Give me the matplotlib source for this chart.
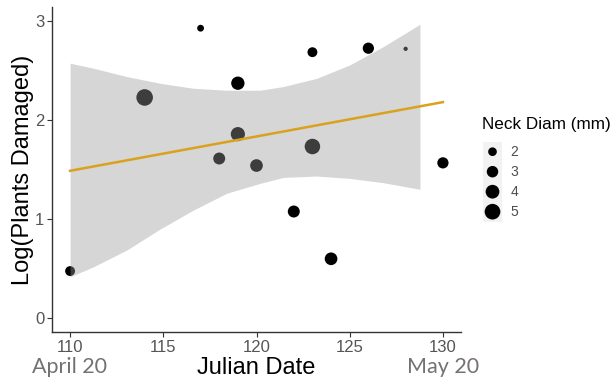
import matplotlib.pyplot as plt
import numpy as np
from matplotlib.patches import Rectangle

# data
julian_day = [110, 114, 117, 118, 119, 119, 120, 122, 123, 123, 124, 126, 128, 130]
log_damaged = [0.475, 2.227, 2.926, 1.611, 2.371, 1.857, 1.54, 1.076, 2.684, 1.732, 0.599, 2.724, 2.718, 1.567]
neck_diam = [2.4, 5.5, 1.5, 3.2, 3.8, 4.2, 3.5, 3.2, 2.4, 4.9, 3.5, 2.9, 1.0, 2.9]

# fitted line and its confidence band
fit_x = [110, 130]
fit_y = [1.487, 2.18]
band_x = [110, 111.25, 113.04, 114.83, 116.61, 118.4, 120.19, 121.44, 123.23, 125.01, 126.8, 128.77]
band_upper = [2.573, 2.522, 2.438, 2.37, 2.32, 2.30, 2.30, 2.337, 2.42, 2.556, 2.74, 2.966]
band_lower = [0.417, 0.518, 0.687, 0.899, 1.09, 1.26, 1.36, 1.42, 1.434, 1.41, 1.367, 1.30]

legend_sizes = [2, 3, 4, 5]
x_ticks = [110, 115, 120, 125, 130]
y_ticks = [0, 1, 2, 3]

W, H = 615, 379


def size_of(v):
    # marker diameter in px grows with sqrt of value
    d = np.sqrt(57 * np.asarray(v, dtype=float) - 39)
    return (d * 0.72) ** 2


fig = plt.figure(figsize=(W / 100, H / 100), dpi=100)
ax = fig.add_axes([52 / W, 1 - 332 / H, (461 - 52) / W, (332 - 7) / H])

ax.scatter(julian_day, log_damaged, s=size_of(neck_diam), color='black',
           edgecolors='none', zorder=2)
ax.fill_between(band_x, band_lower, band_upper, color='#999999', alpha=0.4,
                linewidth=0, zorder=3)
ax.plot(fit_x, fit_y, color='#D9A11E', lw=1.8, zorder=4)

ax.set_xlim(109.03, 130.97)
ax.set_ylim(-0.14, 3.14)
ax.set_xticks(x_ticks)
ax.set_yticks(y_ticks)
for s in ['top', 'right']:
    ax.spines[s].set_visible(False)
for s in ['left', 'bottom']:
    ax.spines[s].set_color('#333333')
    ax.spines[s].set_linewidth(1.0)
ax.tick_params(colors='#333333', length=3.6, width=0.8, labelsize=12,
               labelcolor='#555555', pad=2)
for lab in ax.get_xticklabels() + ax.get_yticklabels():
    lab.set_family('Liberation Sans')

fig.text(23 / W, 1 - 170 / H, 'Log(Plants Damaged)', rotation=90, ha='center',
         va='center', fontsize=17, family='Liberation Sans', color='black')
fig.text(256 / W, 1 - 368 / H, 'Julian Date', ha='center', va='center',
         fontsize=17, family='Liberation Sans', color='black')
fig.text(70 / W, 1 - 367 / H, 'April 20', ha='center', va='center',
         fontsize=15.5, family='Lato', color='#767171')
fig.text(443 / W, 1 - 367 / H, 'May 20', ha='center', va='center',
         fontsize=15.5, family='Lato', color='#767171')

# legend drawn by hand in pixel coordinates
lax = fig.add_axes([460 / W, 1 - 230 / H, 155 / W, 130 / H])
lax.set_xlim(460, 615)
lax.set_ylim(230, 100)
lax.axis('off')
lax.text(481.5, 125, 'Neck Diam (mm)', ha='left', va='center', fontsize=12.3,
         family='Liberation Sans', color='black')
key_y = [151.7, 171.7, 191.7, 211.7]
for v, ky in zip(legend_sizes, key_y):
    lax.add_patch(Rectangle((482.5, ky - 9.5), 19.5, 19.5, color='#f2f2f2',
                            lw=0))
lax.scatter([492.5] * len(key_y), key_y, s=size_of(legend_sizes),
            color='black', edgecolors='none', zorder=3)
for v, ky in zip(legend_sizes, key_y):
    lax.text(510.5, ky, str(v), ha='left', va='center', fontsize=10,
             family='Liberation Sans', color='#4d4d4d')

fig.savefig('out.png', dpi=100)
